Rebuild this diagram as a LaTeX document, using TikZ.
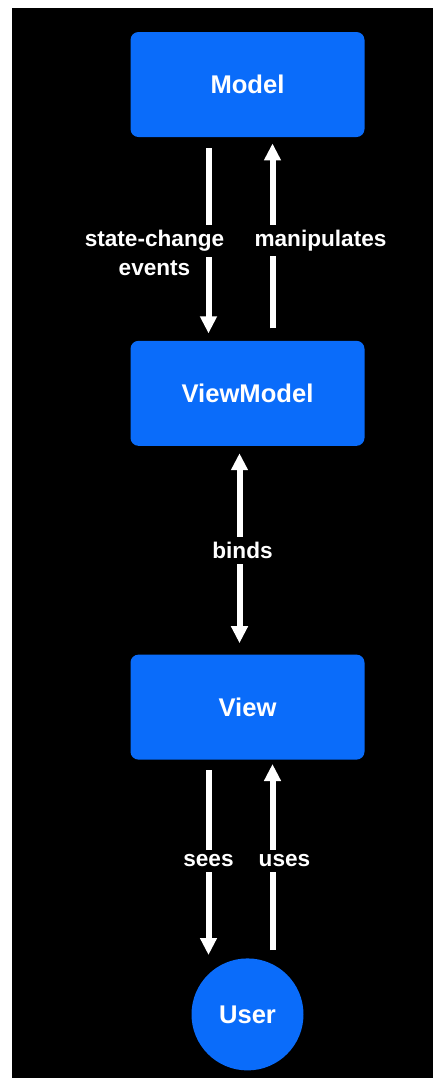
\documentclass[tikz,border=0pt]{standalone}
\usepackage{fontspec}
\setmainfont{Liberation Sans}
\usetikzlibrary{arrows.meta,positioning,shapes.geometric}
\definecolor{boxblue}{HTML}{0A6CFA}
\tikzset{
  layer/.style={
    rectangle,
    rounded corners=4pt,
    fill=boxblue,
    text=white,
    align=center,
    minimum width=117pt,
    minimum height=52.5pt,
    font=\bfseries\fontsize{12.8}{15}\selectfont
  },
  actor/.style={
    circle,
    fill=boxblue,
    text=white,
    minimum size=56pt,
    inner sep=0pt,
    font=\bfseries\fontsize{12.8}{15}\selectfont
  },
  flow/.style={-{Triangle[width=8pt,length=8.5pt]}, line width=3pt, draw=white},
  bothflow/.style={{Triangle[width=8pt,length=8.5pt]}-{Triangle[width=8pt,length=8.5pt]}, line width=3pt, draw=white},
  lbl/.style={fill=black, text=white, inner xsep=1pt, inner ysep=2.5pt, font=\bfseries\fontsize{11.3}{12.5}\selectfont},
  lbltext/.style={text=white, inner sep=0pt, font=\bfseries\fontsize{11.3}{12.5}\selectfont}
}
\begin{document}
\begin{tikzpicture}[x=0.5pt,y=-0.5pt]
  \useasboundingbox (0,0) rectangle (433,1078);
  \fill[black] (12,8) rectangle (433,1078);

  \node[layer] (model) at (247.5,84.5) {Model};
  \node[layer, below=101.5pt of model] (viewmodel) {ViewModel};
  \node[layer, below=104pt of viewmodel] (view) {View};
  \node[actor, below=99pt of view] (user) {User};

  % model <-> viewmodel
  \draw[flow, shorten <=5.5pt, shorten >=3.5pt] ([xshift=-19.5pt]model.south) -- node[lbl, pos=0.51, xshift=-27pt] (scl) {state-change} ([xshift=-19.5pt]viewmodel.north);
  \node[lbltext, below=0.5pt of scl] {events};
  \draw[flow, shorten <=6pt, shorten >=3pt] ([xshift=12.5pt]viewmodel.north) -- node[lbl, pos=0.49, xshift=24pt] {manipulates} ([xshift=12.5pt]model.south);

  % viewmodel <-> view
  \draw[bothflow, shorten <=3.5pt, shorten >=5.5pt] ([xshift=-4pt]viewmodel.south) -- node[lbl, xshift=1.5pt] {binds} ([xshift=-4pt]view.north);

  % view <-> user
  \draw[flow, shorten <=5pt, shorten >=1.5pt] ([xshift=-19.5pt]view.south) -- node[lbl, pos=0.51] {sees} ([xshift=-19.5pt]user.north);
  \draw[flow, shorten <=4pt, shorten >=2pt] ([xshift=12.5pt]user.north) -- node[lbl, pos=0.49, xshift=6pt] {uses} ([xshift=12.5pt]view.south);
\end{tikzpicture}
\end{document}
